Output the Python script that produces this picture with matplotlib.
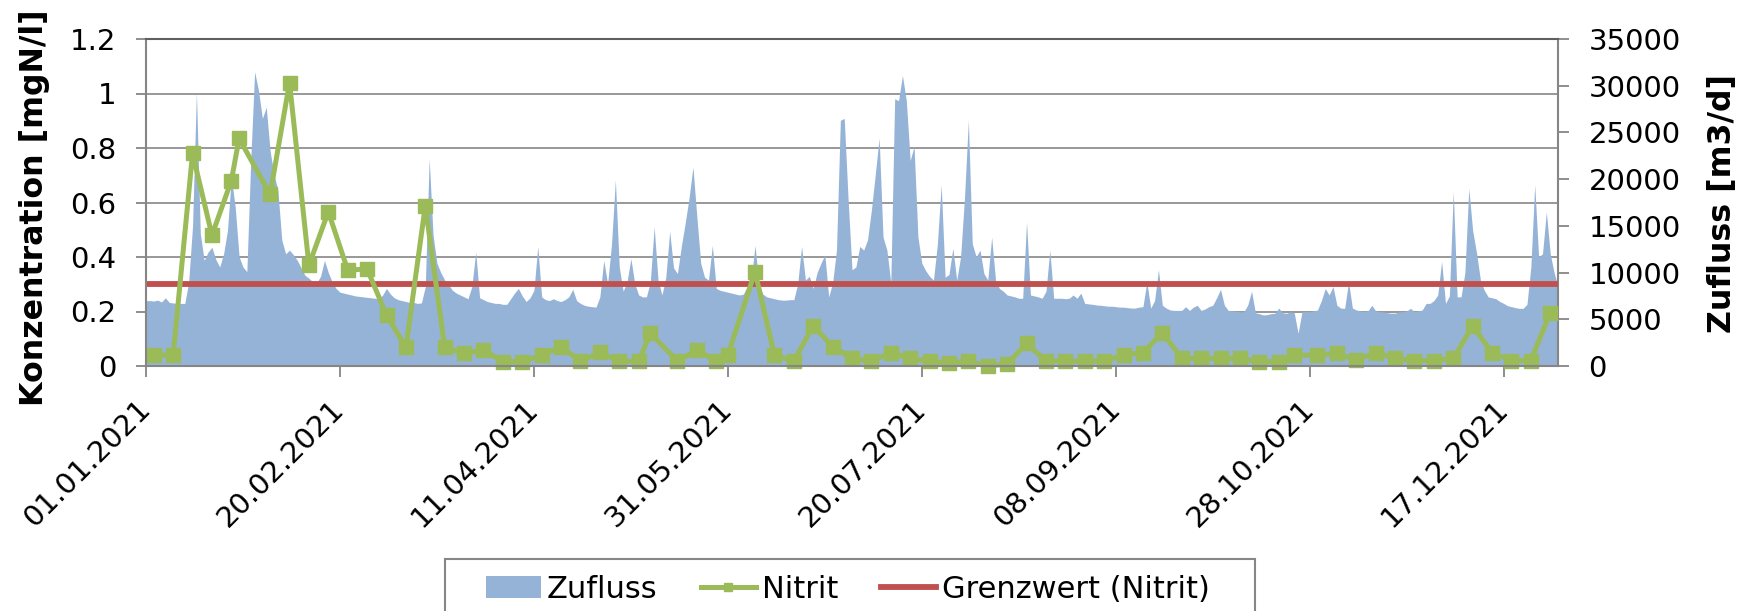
import numpy as np
import pandas as pd
import matplotlib
matplotlib.use("Agg")
import matplotlib.pyplot as plt
from matplotlib.patches import Rectangle

# ---------------- data ----------------
start_date = "2021-01-01"

# daily inflow [m3/d], 01.01.2021 .. 31.12.2021
zufluss = [
    6990, 7000, 6950, 7050, 6850, 7300, 6800, 6750, 6700, 6700,
    6700, 9000, 15000, 29300, 14200, 11300, 12200, 12700, 11400, 10600,
    12000, 14500, 20200, 17000, 11700, 10600, 10100, 22000, 31500, 29500,
    26500, 27700, 23000, 20500, 18800, 13500, 12000, 12400, 11900, 11300,
    10500, 9700, 9400, 9000, 8900, 9600, 11300, 10000, 9000, 8300,
    7900, 7800, 7700, 7600, 7500, 7450, 7400, 7350, 7300, 7250,
    7200, 7600, 8300, 7700, 7300, 7100, 7000, 6900, 6800, 6800,
    6700, 6750, 8500, 22200, 14000, 11000, 10000, 9200, 8700, 8100,
    7800, 7600, 7400, 7200, 8500, 12200, 7300, 7100, 6900, 6800,
    6700, 6700, 6600, 6600, 7200, 7800, 8300, 7500, 6900, 7300,
    8100, 12800, 7400, 7100, 7000, 7200, 7000, 6900, 7100, 7400,
    8200, 7000, 6700, 6500, 6400, 6350, 6300, 7400, 11300, 8800,
    13000, 19900, 10600, 8000, 9000, 11500, 8800, 7600, 7400, 7400,
    9000, 14900, 9200, 7600, 9500, 14400, 10500, 9900, 12800, 15300,
    18000, 21300, 16000, 11000, 9500, 9200, 12900, 8300, 8100, 8000,
    7900, 7800, 7700, 7600, 7700, 8500, 9200, 12900, 8800, 7700,
    7400, 7300, 7200, 7100, 7050, 7050, 7100, 7100, 8800, 12800,
    9200, 9600, 8300, 10000, 11000, 11900, 7400, 8900, 12400, 26300,
    26500, 17800, 10300, 10600, 12800, 12400, 13500, 16700, 20500, 24400,
    13800, 12400, 8900, 28600, 28400, 31100, 28400, 22000, 23500, 13800,
    11000, 10200, 9600, 9200, 13000, 19400, 9500, 9800, 12600, 9200,
    11700, 18000, 26300, 13100, 11700, 12400, 9900, 9200, 13800, 9200,
    8300, 8000, 7600, 7500, 7400, 7250, 7250, 15400, 7600, 7500,
    7400, 7250, 8000, 12400, 7250, 7250, 7250, 7200, 7250, 7600,
    7250, 7800, 6700, 6650, 6600, 6530, 6500, 6450, 6400, 6400,
    6350, 6300, 6300, 6250, 6200, 6200, 6300, 6350, 9000, 6200,
    7000, 10300, 6500, 6200, 6000, 5950, 5950, 5950, 6350, 5950,
    6300, 6500, 5950, 6100, 6350, 6500, 7300, 8200, 6500, 5950,
    5900, 5850, 5800, 5810, 6500, 8000, 5700, 5600, 5460, 5500,
    5600, 5640, 6200, 5700, 5640, 5800, 5700, 3500, 5800, 5810,
    5810, 5900, 6000, 7000, 8300, 7600, 8500, 6500, 6200, 6170,
    9000, 6200, 6000, 5900, 5850, 5900, 6500, 5900, 5810, 5800,
    5700, 5650, 5650, 5800, 5810, 5900, 6170, 5810, 5900, 6000,
    6700, 6700, 7000, 7600, 11200, 6700, 7500, 18700, 7400, 7400,
    10000, 19000, 14500, 12100, 9200, 8100, 7400, 7300, 7200, 6900,
    6700, 6450, 6350, 6250, 6170, 6170, 6600, 10600, 19400, 11700,
    12000, 16500, 12000, 10000, 8500,
]

# nitrite samples: day offset from 01.01.2021 and concentration [mgN/l]
nitrit_day = [2, 7, 12, 17, 22, 24, 32, 37, 42, 47, 52, 57, 62, 67, 72, 77, 82, 87, 92, 97,
              102, 107, 112, 117, 122, 127, 130, 137, 142, 147, 150, 157, 162, 167, 172, 177,
              182, 187, 192, 197, 202, 207, 212, 217, 222, 227, 232, 237, 242, 247, 252, 257,
              262, 267, 272, 277, 282, 287, 292, 296, 302, 307, 312, 317, 322, 327, 332, 337,
              342, 347, 352, 357, 362]
nitrit = [0.04, 0.04, 0.78, 0.48, 0.68, 0.835, 0.63, 1.04, 0.37, 0.566, 0.352, 0.356, 0.187,
          0.068, 0.588, 0.068, 0.046, 0.059, 0.016, 0.016,
          0.04, 0.071, 0.018, 0.05, 0.018, 0.018, 0.12, 0.018, 0.059, 0.018, 0.04, 0.346,
          0.04, 0.018, 0.148, 0.071,
          0.028, 0.018, 0.049, 0.028, 0.018, 0.01, 0.018, 0.0, 0.007, 0.083, 0.018, 0.018,
          0.018, 0.018, 0.04, 0.049,
          0.122, 0.028, 0.028, 0.028, 0.028, 0.016, 0.016, 0.04, 0.04, 0.046, 0.022, 0.049,
          0.028, 0.02, 0.02, 0.028,
          0.147, 0.049, 0.02, 0.02, 0.196]

grenzwert = 0.3

x_tick_labels = ["01.01.2021", "20.02.2021", "11.04.2021", "31.05.2021",
                 "20.07.2021", "08.09.2021", "28.10.2021", "17.12.2021"]
left_ticks = [0, 0.2, 0.4, 0.6, 0.8, 1.0, 1.2]
left_tick_labels = ["0", "0.2", "0.4", "0.6", "0.8", "1", "1.2"]
right_ticks = [0, 5000, 10000, 15000, 20000, 25000, 30000, 35000]
right_tick_labels = [str(v) for v in right_ticks]

# ---------------- styling ----------------
C_AREA = "#95B3D7"
C_GREEN = "#9BBB59"
C_RED = "#C0504D"
C_GRID = "#868686"
FS = 21

plt.rcParams["font.family"] = ["DejaVu Sans"]

W, H = 1746, 611
fig = plt.figure(figsize=(W / 100, H / 100), dpi=100)

L, R, T, B = 146, 1558, 39, 366
pos = [L / W, 1 - B / H, (R - L) / W, (B - T) / H]

start = pd.Timestamp(start_date)
dates = pd.date_range(start, periods=len(zufluss), freq="D")
n_dates = [start + pd.Timedelta(days=d) for d in nitrit_day]
tick_dates = pd.to_datetime(x_tick_labels, format="%d.%m.%Y")
xmin, xmax = dates[0], dates[-1]

# bottom axis: gridlines only
ax_g = fig.add_axes(pos)
ax_g.set_xlim(xmin, xmax)
ax_g.set_ylim(0, 1.2)
ax_g.set_yticks(left_ticks)
ax_g.set_xticks(tick_dates)
ax_g.grid(axis="y", color=C_GRID, linewidth=1.2)
ax_g.tick_params(left=False, labelleft=False, bottom=False, labelbottom=False)
for s in ax_g.spines.values():
    s.set_visible(False)
ax_g.set_zorder(0)

# middle axis: inflow area on right scale
ax_a = fig.add_axes(pos, sharex=ax_g)
ax_a.patch.set_visible(False)
area = ax_a.fill_between(dates, zufluss, 0, color=C_AREA, linewidth=0, label="Zufluss")
ax_a.set_ylim(0, 35000)
ax_a.yaxis.tick_right()
ax_a.set_yticks(right_ticks)
ax_a.set_yticklabels(right_tick_labels)
ax_a.tick_params(axis="y", right=True, left=False, direction="out", length=8, width=1.3,
                 color=C_GRID, labelsize=FS, pad=14)
ax_a.tick_params(axis="x", bottom=False, labelbottom=False)
for k in ["left", "top", "bottom"]:
    ax_a.spines[k].set_visible(False)
ax_a.spines["right"].set_color(C_GRID)
ax_a.spines["right"].set_linewidth(1.5)
ax_a.set_zorder(1)

# top axis: lines, left scale, x axis
ax = fig.add_axes(pos, sharex=ax_g)
ax.patch.set_visible(False)
ax.set_ylim(0, 1.2)
red = ax.axhline(grenzwert, color=C_RED, linewidth=4.2, label="Grenzwert (Nitrit)")
green, = ax.plot(n_dates, nitrit, color=C_GREEN, linewidth=3.6, marker="s", markersize=10.5,
                 markeredgecolor=C_GREEN, markerfacecolor=C_GREEN, label="Nitrit",
                 clip_on=False)
ax.set_xlim(xmin, xmax)
ax.set_yticks(left_ticks)
ax.set_yticklabels(left_tick_labels)
ax.set_xticks(tick_dates)
ax.set_xticklabels(x_tick_labels)
ax.tick_params(axis="y", direction="out", length=7.5, width=1.3, color=C_GRID,
               labelsize=FS, pad=14)
ax.tick_params(axis="x", direction="out", length=8, width=1.3, color=C_GRID,
               labelsize=FS, pad=20)
for lab in ax.get_xticklabels():
    lab.set_rotation(45)
    lab.set_ha("right")
    lab.set_va("center")
    lab.set_rotation_mode("anchor")
ax.spines["right"].set_visible(False)
for k in ["left", "bottom"]:
    ax.spines[k].set_color(C_GRID)
    ax.spines[k].set_linewidth(1.5)
ax.spines["top"].set_color("#5f5f5f")
ax.spines["top"].set_linewidth(1.5)
ax.set_zorder(2)

# axis titles
fig.text(35 / W, 1 - 208 / H, "Konzentration [mgN/l]", rotation=90, ha="center",
         va="center", fontsize=22.8, fontweight="bold")
fig.text(1722 / W, 1 - 204 / H, "Zufluss [m3/d]", rotation=90, ha="center",
         va="center", fontsize=22.8, fontweight="bold")

# legend
fig.add_artist(Rectangle((445 / W, -0.05), 810 / W, 0.05 + (1 - 559 / H),
                         transform=fig.transFigure, fill=False, edgecolor=C_GRID,
                         linewidth=1.5))
fig.legend(handles=[area, green, red], loc="center left",
           bbox_to_anchor=(486 / W, 1 - 589 / H), ncol=3, frameon=False,
           fontsize=22, borderpad=0, borderaxespad=0, handlelength=1.8,
           handletextpad=0.2, columnspacing=1.4, markerscale=0.6)

fig.savefig("out.png", dpi=100)
